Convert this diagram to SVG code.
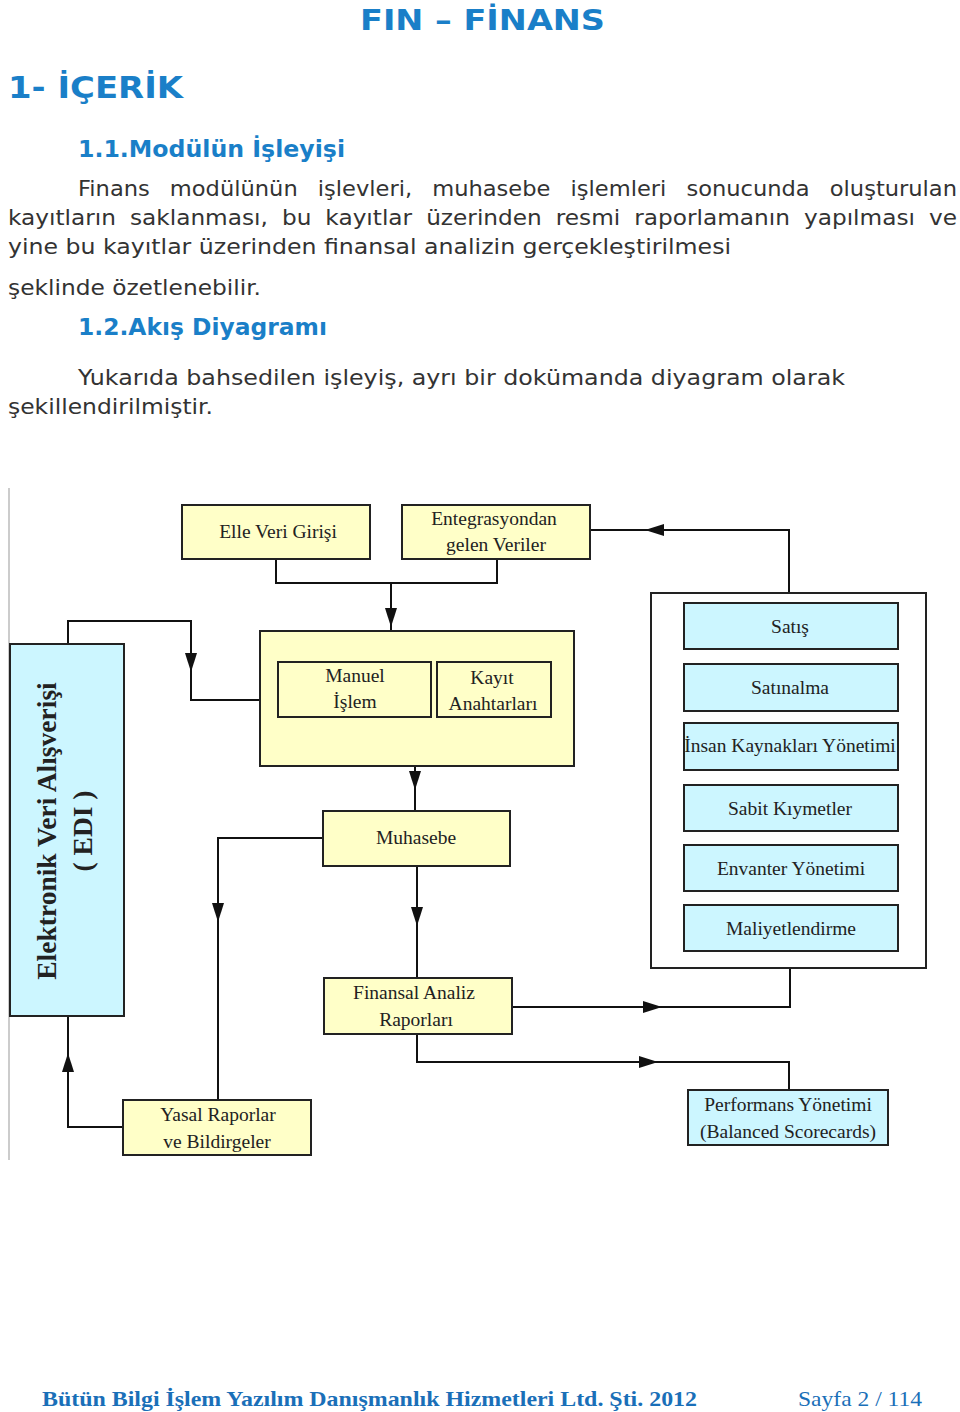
<svg xmlns="http://www.w3.org/2000/svg" width="960" height="1412" viewBox="0 0 960 1412">
<style>
.h{font-family:"DejaVu Sans",Verdana,sans-serif;font-weight:bold;fill:#1a7fc8}
.b{font-family:"DejaVu Sans",Verdana,sans-serif;font-size:21px;fill:#333}
.y{fill:#ffffc8;stroke:#222;stroke-width:2}
.c{fill:#ccf6ff;stroke:#222;stroke-width:2}
.t{font-family:"Liberation Serif","Times New Roman",serif;font-size:19.5px;fill:#222;text-anchor:middle}
.ln{fill:none;stroke:#111;stroke-width:2}
.f{font-family:"Liberation Serif","Times New Roman",serif;font-size:22px;fill:#1a6fb8}
</style>
<defs>
<path id="ah" d="M0,0 L-6,-19 L6,-19 Z" fill="#111"/>
</defs>
<rect width="960" height="1412" fill="#fff"/>
<text class="h" x="360" y="30" font-size="29" textLength="245" lengthAdjust="spacingAndGlyphs">FIN – FİNANS</text>
<text class="h" x="8" y="98" font-size="31" textLength="175" lengthAdjust="spacingAndGlyphs">1- İÇERİK</text>
<text class="h" x="78" y="157" font-size="23" textLength="267" lengthAdjust="spacingAndGlyphs">1.1.Modülün İşleyişi</text>
<text class="b" x="78" y="196" word-spacing="12" textLength="879" lengthAdjust="spacingAndGlyphs">Finans modülünün işlevleri, muhasebe işlemleri sonucunda oluşturulan</text>
<text class="b" x="8" y="225" word-spacing="6" textLength="949" lengthAdjust="spacingAndGlyphs">kayıtların saklanması, bu kayıtlar üzerinden resmi raporlamanın yapılması ve</text>
<text class="b" x="8" y="254" textLength="723" lengthAdjust="spacingAndGlyphs">yine bu kayıtlar üzerinden finansal analizin gerçekleştirilmesi</text>
<text class="b" x="8" y="295" textLength="253" lengthAdjust="spacingAndGlyphs">şeklinde özetlenebilir.</text>
<text class="h" x="78" y="335" font-size="23" textLength="249" lengthAdjust="spacingAndGlyphs">1.2.Akış Diyagramı</text>
<text class="b" x="78" y="385" textLength="767" lengthAdjust="spacingAndGlyphs">Yukarıda bahsedilen işleyiş, ayrı bir dokümanda diyagram olarak</text>
<text class="b" x="8" y="414" textLength="205" lengthAdjust="spacingAndGlyphs">şekillendirilmiştir.</text>

<line x1="9" y1="488" x2="9" y2="1160" stroke="#bbb" stroke-width="1.5"/>

<g id="connectors">
<path class="ln" d="M276,559 V583 H497 V559 M391,583 V631"/>
<path class="ln" d="M789,593 V530 H590"/>
<path class="ln" d="M68,644 V621 H191 V700 H260"/>
<path class="ln" d="M415,766 V811"/>
<path class="ln" d="M323,838 H218 V1100"/>
<path class="ln" d="M417,866 V978"/>
<path class="ln" d="M512,1007 H790 V968"/>
<path class="ln" d="M417,1034 V1062 H789 V1090"/>
<path class="ln" d="M123,1127 H68 V1016"/>
<use href="#ah" transform="translate(391,627)"/>
<use href="#ah" transform="translate(645,530) rotate(90)"/>
<use href="#ah" transform="translate(191,672)"/>
<use href="#ah" transform="translate(415,790)"/>
<use href="#ah" transform="translate(218,922)"/>
<use href="#ah" transform="translate(417,926)"/>
<use href="#ah" transform="translate(68,1053) rotate(180)"/>
<use href="#ah" transform="translate(662,1007) rotate(-90)"/>
<use href="#ah" transform="translate(658,1062) rotate(-90)"/>
</g>

<g id="elle"><rect class="y" x="182" y="505" width="188" height="54"/><text class="t" x="278" y="538">Elle Veri Girişi</text></g>
<g id="entegrasyon"><rect class="y" x="402" y="505" width="188" height="54"/><text class="t" x="494" y="525">Entegrasyondan</text><text class="t" x="496" y="551">gelen Veriler</text></g>
<g id="islem"><rect class="y" x="260" y="631" width="314" height="135"/></g>
<g id="manuel"><rect class="y" x="278" y="662" width="153" height="55"/><text class="t" x="355" y="682">Manuel</text><text class="t" x="355" y="708">İşlem</text></g>
<g id="kayit"><rect class="y" x="437" y="662" width="114" height="55"/><text class="t" x="492" y="684">Kayıt</text><text class="t" x="493" y="710">Anahtarları</text></g>
<g id="edi"><rect class="c" x="10" y="644" width="114" height="372"/>
<text transform="translate(56,831) rotate(-90)" class="t" style="font-size:27.5px;font-weight:bold" x="0" y="0">Elektronik Veri Alışverişi</text>
<text transform="translate(92,831) rotate(-90)" class="t" style="font-size:27.5px;font-weight:bold" x="0" y="0">( EDI )</text></g>
<g id="moduller"><rect x="651" y="593" width="275" height="375" fill="#fff" stroke="#222" stroke-width="2"/></g>
<g id="satis"><rect class="c" x="684" y="603" width="214" height="46"/><text class="t" x="790" y="633">Satış</text></g>
<g id="satinalma"><rect class="c" x="684" y="664" width="214" height="47"/><text class="t" x="790" y="694">Satınalma</text></g>
<g id="ik"><rect class="c" x="684" y="723" width="214" height="47"/><text class="t" x="790" y="752">İnsan Kaynakları Yönetimi</text></g>
<g id="sabit"><rect class="c" x="684" y="785" width="214" height="46"/><text class="t" x="790" y="815">Sabit Kıymetler</text></g>
<g id="envanter"><rect class="c" x="684" y="845" width="214" height="46"/><text class="t" x="791" y="875">Envanter Yönetimi</text></g>
<g id="maliyet"><rect class="c" x="684" y="905" width="214" height="46"/><text class="t" x="791" y="935">Maliyetlendirme</text></g>
<g id="muhasebe"><rect class="y" x="323" y="811" width="187" height="55"/><text class="t" x="416" y="844">Muhasebe</text></g>
<g id="finansal"><rect class="y" x="324" y="978" width="188" height="56"/><text class="t" x="414" y="999">Finansal Analiz</text><text class="t" x="416" y="1026">Raporları</text></g>
<g id="yasal"><rect class="y" x="123" y="1100" width="188" height="55"/><text class="t" x="218" y="1121">Yasal Raporlar</text><text class="t" x="217" y="1148">ve Bildirgeler</text></g>
<g id="performans"><rect class="c" x="688" y="1090" width="200" height="55"/><text class="t" x="788" y="1111">Performans Yönetimi</text><text class="t" x="788" y="1138">(Balanced Scorecards)</text></g>

<text class="f" x="42" y="1406" font-weight="bold" textLength="655" lengthAdjust="spacingAndGlyphs">Bütün Bilgi İşlem Yazılım Danışmanlık Hizmetleri Ltd. Şti.  2012</text>
<text class="f" x="798" y="1406" textLength="124" lengthAdjust="spacingAndGlyphs">Sayfa 2 / 114</text>
</svg>
